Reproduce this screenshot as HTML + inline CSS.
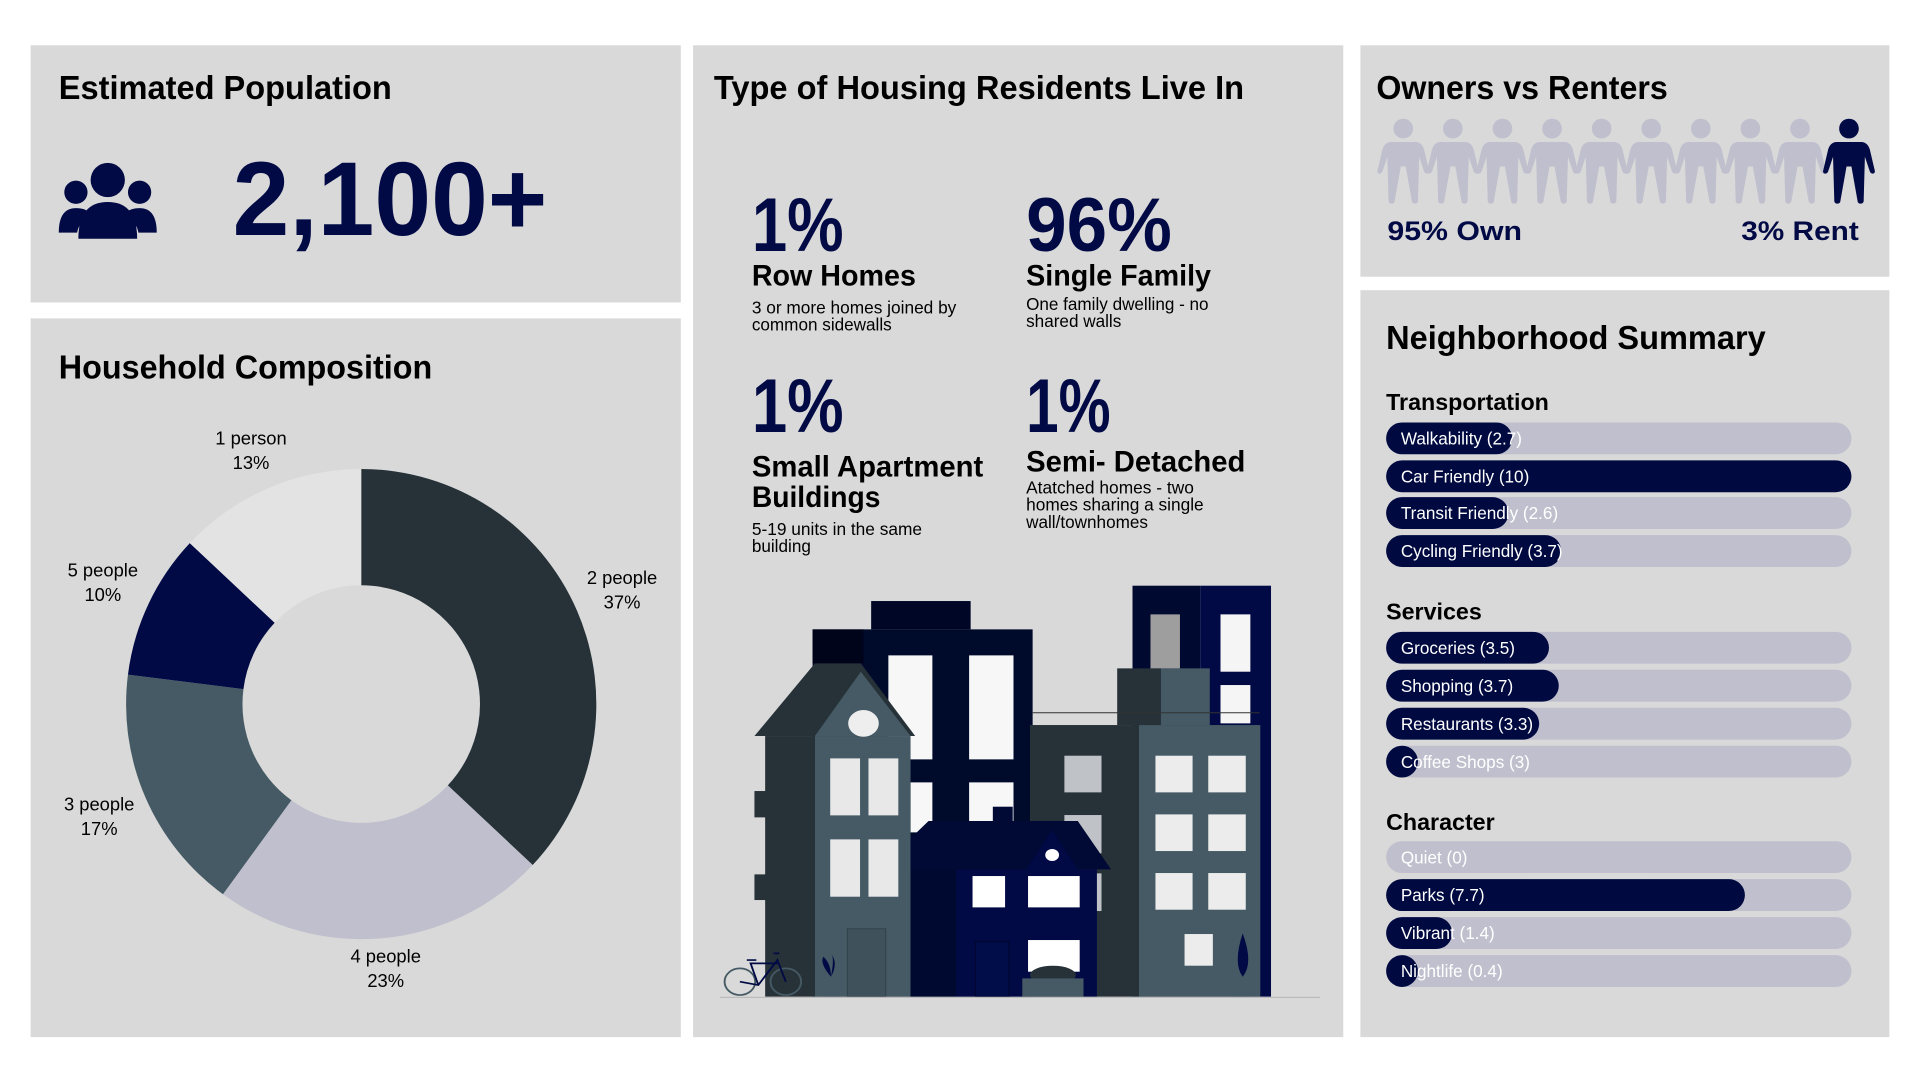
<!DOCTYPE html>
<html><head><meta charset="utf-8"><style>
html,body{margin:0;padding:0;background:#fff;width:1920px;height:1080px;overflow:hidden}
svg{display:block}
text{font-family:"Liberation Sans",sans-serif}
.t{font-weight:bold;fill:#000;font-size:27px}
.h{font-weight:bold;fill:#000;font-size:19px}
.bl{fill:#fff;font-size:14px}
.pl{fill:#000;font-size:15px;text-anchor:middle}
.big{font-weight:bold;fill:#020a45}
.sub{font-weight:bold;fill:#000;font-size:24px}
.d{fill:#000;font-size:14px}
</style></head><body>
<svg width="1920" height="1080" viewBox="0 0 1568 882" preserveAspectRatio="none">
<rect width="1568" height="882" fill="#fff"/>
<rect x="25" y="37" width="531" height="210" fill="#d9d9d9"/>
<rect x="25" y="260" width="531" height="587" fill="#d9d9d9"/>
<rect x="566" y="37" width="531" height="810" fill="#d9d9d9"/>
<rect x="1111" y="37" width="432" height="189" fill="#d9d9d9"/>
<rect x="1111" y="237" width="432" height="610" fill="#d9d9d9"/>

<!-- Panel 1 -->
<text class="t" x="48" y="81" textLength="272" lengthAdjust="spacingAndGlyphs">Estimated Population</text>
<g fill="#020a45">
<circle cx="88" cy="147" r="14"/><circle cx="62" cy="157" r="9.5"/><circle cx="114" cy="157" r="9.5"/>
<path d="M64 195 Q64 165 88 165 Q112 165 112 195 Z"/>
<path d="M48 190 Q48 170 62 170 Q72 170 74 176 Q64 182 63 190 Z"/>
<path d="M128 190 Q128 170 114 170 Q104 170 102 176 Q112 182 113 190 Z"/>
</g>
<text class="big" x="190" y="192" font-size="86" textLength="257" lengthAdjust="spacingAndGlyphs">2,100+</text>

<!-- Panel 2 -->
<text class="t" x="48" y="309" textLength="305" lengthAdjust="spacingAndGlyphs">Household Composition</text>
<path d="M295 383 A192 192 0 0 1 435 706.4 L365.7 641.4 A97 97 0 0 0 295 478 Z" fill="#263238"/>
<path d="M435 706.4 A192 192 0 0 1 182.1 730.3 L238 653.5 A97 97 0 0 0 365.7 641.4 Z" fill="#c0bfcd"/>
<path d="M182.1 730.3 A192 192 0 0 1 104.5 550.9 L198.8 562.8 A97 97 0 0 0 238 653.5 Z" fill="#455a64"/>
<path d="M104.5 550.9 A192 192 0 0 1 155 443.6 L224.3 508.6 A97 97 0 0 0 198.8 562.8 Z" fill="#020a45"/>
<path d="M155 443.6 A192 192 0 0 1 295 383 L295 478 A97 97 0 0 0 224.3 508.6 Z" fill="#e3e3e3"/>
<text class="pl" x="205" y="363">1 person</text><text class="pl" x="205" y="383">13%</text>
<text class="pl" x="508" y="477">2 people</text><text class="pl" x="508" y="497">37%</text>
<text class="pl" x="84" y="471">5 people</text><text class="pl" x="84" y="491">10%</text>
<text class="pl" x="81" y="662">3 people</text><text class="pl" x="81" y="682">17%</text>
<text class="pl" x="315" y="786">4 people</text><text class="pl" x="315" y="806">23%</text>

<!-- Panel 3 -->
<text class="t" x="583" y="81" textLength="433" lengthAdjust="spacingAndGlyphs">Type of Housing Residents Live In</text>
<text class="big" x="614" y="205" font-size="62" textLength="75" lengthAdjust="spacingAndGlyphs">1%</text>
<text class="big" x="838" y="205" font-size="62" textLength="119" lengthAdjust="spacingAndGlyphs">96%</text>
<text class="sub" x="614" y="233" textLength="134" lengthAdjust="spacingAndGlyphs">Row Homes</text>
<text class="d" x="614" y="256" textLength="167" lengthAdjust="spacingAndGlyphs">3 or more homes joined by</text>
<text class="d" x="614" y="270">common sidewalls</text>
<text class="sub" x="838" y="233" textLength="151" lengthAdjust="spacingAndGlyphs">Single Family</text>
<text class="d" x="838" y="253" textLength="149" lengthAdjust="spacingAndGlyphs">One family dwelling - no</text>
<text class="d" x="838" y="267">shared walls</text>
<text class="big" x="614" y="353" font-size="62" textLength="75" lengthAdjust="spacingAndGlyphs">1%</text>
<text class="big" x="838" y="353" font-size="62" textLength="69" lengthAdjust="spacingAndGlyphs">1%</text>
<text class="sub" x="614" y="389" textLength="189" lengthAdjust="spacingAndGlyphs">Small Apartment</text>
<text class="sub" x="614" y="414" textLength="105" lengthAdjust="spacingAndGlyphs">Buildings</text>
<text class="d" x="614" y="437" textLength="139" lengthAdjust="spacingAndGlyphs">5-19 units in the same</text>
<text class="d" x="614" y="451">building</text>
<text class="sub" x="838" y="385" textLength="179" lengthAdjust="spacingAndGlyphs">Semi- Detached</text>
<text class="d" x="838" y="403" textLength="137" lengthAdjust="spacingAndGlyphs">Atatched homes - two</text>
<text class="d" x="838" y="417" textLength="145" lengthAdjust="spacingAndGlyphs">homes sharing a single</text>
<text class="d" x="838" y="431">wall/townhomes</text>

<svg x="588" y="473.7" width="490" height="343" viewBox="0 0 1568 1260" preserveAspectRatio="none">
<rect x="1078" y="17" width="177" height="1233" fill="#000a30"/>
<rect x="1255" y="17" width="185" height="1233" fill="#020a45"/>
<rect x="395" y="63" width="260" height="85" fill="#000626"/>
<rect x="242" y="148" width="575" height="1102" fill="#000a2a"/>
<rect x="242" y="148" width="133" height="102" fill="#00041a"/>
<g fill="#f7f7f7"><rect x="440" y="226" width="115" height="312"/><rect x="651" y="226" width="116" height="312"/><rect x="498" y="607" width="57" height="150"/><rect x="651" y="607" width="116" height="120"/></g>
<rect x="118" y="468" width="130" height="782" fill="#263238"/>
<polygon points="90,468 248,250 368,250 510,468" fill="#263238"/>
<polygon points="248,468 368,275 498,468" fill="#455a64"/>
<rect x="248" y="468" width="250" height="782" fill="#455a64"/>
<rect x="90" y="633" width="158" height="79" fill="#263238"/><rect x="90" y="883" width="158" height="77" fill="#263238"/>
<circle cx="375" cy="430" r="40" fill="#eee"/>
<g fill="#e8e8e8"><rect x="288" y="535" width="78" height="171"/><rect x="388" y="535" width="78" height="171"/><rect x="288" y="778" width="78" height="172"/><rect x="388" y="778" width="78" height="172"/></g>
<rect x="333" y="1046" width="100" height="204" fill="#3f525c" stroke="#34444c" stroke-width="3"/>
<rect x="810" y="435" width="285" height="815" fill="#263238"/>
<g fill="#bfc3c7"><rect x="900" y="527" width="97" height="110"/><rect x="900" y="705" width="97" height="115"/><rect x="955" y="880" width="42" height="113"/></g>
<rect x="1038" y="265" width="114" height="170" fill="#263238"/><rect x="1152" y="265" width="128" height="170" fill="#455a64"/>
<rect x="1095" y="435" width="317" height="815" fill="#455a64"/>
<g fill="#ececec"><rect x="1138" y="527" width="97" height="110"/><rect x="1276" y="527" width="98" height="110"/><rect x="1138" y="703" width="97" height="110"/><rect x="1276" y="703" width="98" height="110"/><rect x="1138" y="879" width="97" height="110"/><rect x="1276" y="879" width="98" height="110"/><rect x="1214" y="1062" width="74" height="95"/></g>
<rect x="1125" y="103" width="77" height="162" fill="#9e9e9e"/>
<g fill="#f5f5f5"><rect x="1308" y="103" width="78" height="172"/><rect x="1308" y="315" width="78" height="115"/></g>
<line x1="815" y1="398" x2="1410" y2="398" stroke="#333" stroke-width="3"/>
<polygon points="498,775 545,723 935,723 1022,868 498,868" fill="#000a35"/>
<rect x="498" y="868" width="119" height="382" fill="#000a30"/>
<rect x="617" y="868" width="368" height="382" fill="#020a45"/>
<polygon points="800,868 868,750 935,868" fill="#020a45"/>
<rect x="713" y="680" width="52" height="120" fill="#000a35"/>
<circle cx="868" cy="825" r="18" fill="#fff"/>
<g fill="#fff"><rect x="660" y="888" width="85" height="94"/><rect x="805" y="888" width="135" height="94"/><rect x="805" y="1080" width="135" height="95"/></g>
<rect x="668" y="1085" width="87" height="165" fill="#000d48" stroke="#000630" stroke-width="3"/>
<ellipse cx="870" cy="1185" rx="60" ry="28" fill="#263238"/>
<rect x="790" y="1195" width="160" height="55" fill="#455a64"/>
<rect x="265" y="1190" width="50" height="60" fill="#455a64"/><rect x="1340" y="1190" width="52" height="60" fill="#455a64"/>
<path d="M290 1190 Q260 1150 270 1130 Q290 1150 290 1190 Q300 1130 290 1120 Q310 1150 290 1190" fill="#020a45"/>
<path d="M1366 1190 Q1340 1150 1366 1060 Q1395 1150 1366 1190" fill="#020a45"/>
<g fill="none" stroke="#020a45" stroke-width="5"><circle cx="52" cy="1205" r="40" stroke="#455a64"/><circle cx="172" cy="1205" r="40" stroke="#455a64"/><path d="M52 1205 L100 1215 L150 1140 L172 1205 M100 1215 L80 1150 L150 1150 M70 1140 L95 1140 M140 1120 L155 1120"/></g>
<line x1="0" y1="1252" x2="1568" y2="1252" stroke="#bbb" stroke-width="4"/>
</svg>

<!-- Panel 4 -->
<text class="t" x="1124" y="81" textLength="238" lengthAdjust="spacingAndGlyphs">Owners vs Renters</text>
<defs><path id="p" d="M19 0 C24 0 27 4 27 8 C27 12 24 16 19 16 C14 16 11 12 11 8 C11 4 14 0 19 0 Z M9 19 L29 19 C33 19 35 22 36 25 L40 42 C41 45 37 46 36 43 L32 31 L31 67 C31 70 26 70 26 67 L21 39 L17 39 L12 67 C12 70 7 70 7 67 L6 31 L2 43 C1 46 -3 45 -2 42 L2 25 C3 22 5 19 9 19 Z"/></defs>
<g fill="#c0bfcd">
<use href="#p" x="1127" y="97"/><use href="#p" x="1167.5" y="97"/><use href="#p" x="1208" y="97"/><use href="#p" x="1248.5" y="97"/><use href="#p" x="1289" y="97"/><use href="#p" x="1329.5" y="97"/><use href="#p" x="1370" y="97"/><use href="#p" x="1410.5" y="97"/><use href="#p" x="1451" y="97"/>
</g>
<use href="#p" x="1491" y="97" fill="#020a45"/>
<text class="big" x="1133" y="196" font-size="22" textLength="110" lengthAdjust="spacingAndGlyphs">95% Own</text>
<text class="big" x="1422" y="196" font-size="22" textLength="96" lengthAdjust="spacingAndGlyphs">3% Rent</text>

<!-- Panel 5 -->
<text class="t" x="1132" y="285" textLength="310" lengthAdjust="spacingAndGlyphs">Neighborhood Summary</text>
<text class="h" x="1132" y="335">Transportation</text>
<text class="h" x="1132" y="506">Services</text>
<text class="h" x="1132" y="678">Character</text>
<g fill="#c0bfcd">
<rect x="1132" y="345" width="380" height="26" rx="13"/><rect x="1132" y="376" width="380" height="26" rx="13"/><rect x="1132" y="406" width="380" height="26" rx="13"/><rect x="1132" y="437" width="380" height="26" rx="13"/>
<rect x="1132" y="516" width="380" height="26" rx="13"/><rect x="1132" y="547" width="380" height="26" rx="13"/><rect x="1132" y="578" width="380" height="26" rx="13"/><rect x="1132" y="609" width="380" height="26" rx="13"/>
<rect x="1132" y="687" width="380" height="26" rx="13"/><rect x="1132" y="718" width="380" height="26" rx="13"/><rect x="1132" y="749" width="380" height="26" rx="13"/><rect x="1132" y="780" width="380" height="26" rx="13"/>
</g>
<g fill="#000a40">
<rect x="1132" y="345" width="103" height="26" rx="13"/><rect x="1132" y="376" width="380" height="26" rx="13"/><rect x="1132" y="406" width="100" height="26" rx="13"/><rect x="1132" y="437" width="143" height="26" rx="13"/>
<rect x="1132" y="516" width="133" height="26" rx="13"/><rect x="1132" y="547" width="141" height="26" rx="13"/><rect x="1132" y="578" width="125" height="26" rx="13"/><rect x="1132" y="609" width="26" height="26" rx="13"/>
<rect x="1132" y="718" width="293" height="26" rx="13"/><rect x="1132" y="749" width="54" height="26" rx="13"/><rect x="1132" y="780" width="26" height="26" rx="13"/>
</g>
<g class="bl">
<text class="bl" x="1144" y="363">Walkability (2.7)</text>
<text class="bl" x="1144" y="394">Car Friendly (10)</text>
<text class="bl" x="1144" y="424">Transit Friendly (2.6)</text>
<text class="bl" x="1144" y="455">Cycling Friendly (3.7)</text>
<text class="bl" x="1144" y="534">Groceries (3.5)</text>
<text class="bl" x="1144" y="565">Shopping (3.7)</text>
<text class="bl" x="1144" y="596">Restaurants (3.3)</text>
<text class="bl" x="1144" y="627">Coffee Shops (3)</text>
<text class="bl" x="1144" y="705">Quiet (0)</text>
<text class="bl" x="1144" y="736">Parks (7.7)</text>
<text class="bl" x="1144" y="767">Vibrant (1.4)</text>
<text class="bl" x="1144" y="798">Nightlife (0.4)</text>
</g>
</svg>
</body></html>
